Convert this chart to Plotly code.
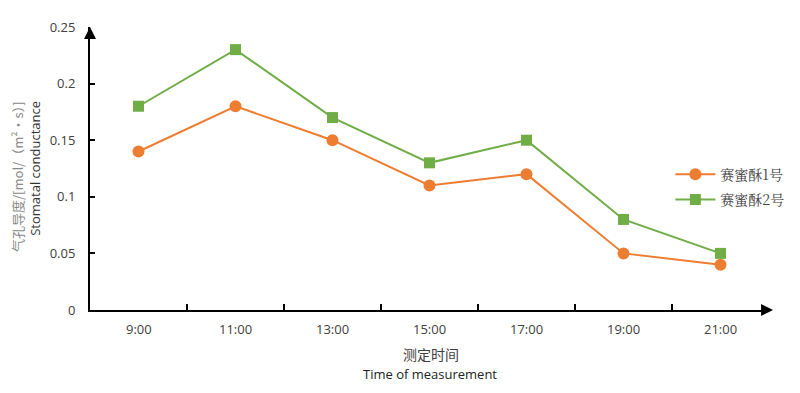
import plotly.graph_objects as go

categories = ["9:00", "11:00", "13:00", "15:00", "17:00", "19:00", "21:00"]
series1_name = "赛蜜酥1号"
series2_name = "赛蜜酥2号"
series1 = [0.14, 0.18, 0.15, 0.11, 0.12, 0.05, 0.04]
series2 = [0.18, 0.23, 0.17, 0.13, 0.15, 0.08, 0.05]
y_ticks = [0, 0.05, 0.1, 0.15, 0.2, 0.25]
y_ticktext = ["0", "0.05", "0.1", "0.15", "0.2", "0.25"]

FONT = "Open Sans, Noto Sans CJK SC"
xidx = list(range(len(categories)))

fig = go.Figure()
fig.add_trace(go.Scatter(x=xidx, y=series1, name=series1_name, mode="lines+markers",
                         legendgroup="a",
                         line=dict(color="#ED7D31", width=2),
                         marker=dict(symbol="circle", size=12, color="#ED7D31")))
fig.add_trace(go.Scatter(x=xidx, y=series2, name=series2_name, mode="lines+markers",
                         legendgroup="b",
                         line=dict(color="#70AD47", width=2),
                         marker=dict(symbol="square", size=11, color="#70AD47")))

# page body has an 8px margin, so the figure is shrunk by 8px on each axis
fig.update_layout(
    width=792, height=385,
    margin=dict(l=82, r=31, t=10, b=83),
    paper_bgcolor="white", plot_bgcolor="white",
    font=dict(family=FONT, size=12, color="#404040"),
    showlegend=True,
    legend=dict(x=1.03, y=0.535, xanchor="right", yanchor="top",
                bgcolor="rgba(0,0,0,0)",
                font=dict(size=14, color="#404040", family="Noto Serif CJK SC, Noto Sans CJK SC"),
                itemwidth=40, tracegroupgap=4),
    xaxis=dict(range=[-0.5, 6.5], tickvals=[i - 0.5 for i in range(1, 8)],
               ticktext=[""] * 7, ticks="inside", ticklen=6, tickcolor="black",
               tickwidth=1.5, showline=True, linecolor="black", linewidth=2,
               showgrid=False, zeroline=False, fixedrange=True),
    yaxis=dict(range=[0, 0.25], tickvals=y_ticks, ticktext=y_ticktext,
               ticks="inside", ticklen=5, tickcolor="black", tickwidth=1.5,
               showline=True, linecolor="black", linewidth=2, showgrid=False,
               zeroline=False, ticklabelstandoff=10,
               tickfont=dict(size=13, color="#404040")),
)

# category labels
for i, c in enumerate(categories):
    fig.add_annotation(x=i, y=0, xref="x", yref="paper", text=c, showarrow=False,
                       yanchor="top", yshift=-8, font=dict(size=13, color="#404040"))

# axis arrows
fig.add_annotation(x=1.006, y=0, xref="paper", yref="paper", ax=-12, ay=0,
                   showarrow=True, arrowhead=2, arrowsize=1.2, arrowwidth=2,
                   arrowcolor="black", text="")
fig.add_annotation(x=0, y=1.0, xref="paper", yref="paper", ax=0, ay=12,
                   showarrow=True, arrowhead=2, arrowsize=1.2, arrowwidth=2,
                   arrowcolor="black", text="")

# axis titles
fig.add_annotation(x=0.502, y=-0.154, xref="paper", yref="paper", yanchor="middle",
                   xanchor="center", text="测定时间", showarrow=False,
                   font=dict(size=14, color="#404040", family="Noto Sans CJK SC"))
fig.add_annotation(x=0.5, y=-0.226, xref="paper", yref="paper", yanchor="middle",
                   xanchor="center", text="Time of measurement", showarrow=False,
                   font=dict(size=13, color="#222222"))
fig.add_annotation(x=-0.106, y=0.47, xref="paper", yref="paper", textangle=-90,
                   xanchor="center", yanchor="middle",
                   text="气孔导度/[mol/（m²·s）]", showarrow=False,
                   font=dict(size=13, color="#8a8a8a", family="Noto Sans CJK SC"))
fig.add_annotation(x=-0.082, y=0.5, xref="paper", yref="paper", textangle=-90,
                   xanchor="center", yanchor="middle",
                   text="Stomatal conductance", showarrow=False,
                   font=dict(size=13, color="#333333"))

fig.write_html("out.html")
